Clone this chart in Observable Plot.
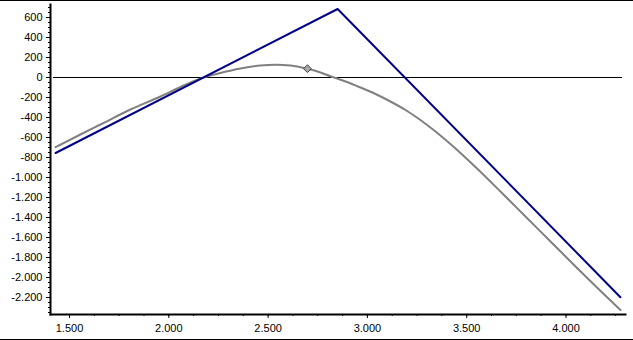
<!DOCTYPE html>
<html>
<head>
<meta charset="utf-8">
<script src="https://cdn.jsdelivr.net/npm/d3@7"></script>
<script src="https://cdn.jsdelivr.net/npm/@observablehq/plot@0.6"></script>
<style>
  html, body { margin: 0; padding: 0; background: #fff; }
  #wrap { width: 633px; height: 337px; border-top: 1px solid #000; border-bottom: 1px solid #000; padding-bottom: 1px; }
  #wrap svg { display: block; }
</style>
</head>
<body>
<div id="wrap"></div>
<script>
// Expiry payoff (blue) breakpoints
const expiryX = [1430, 2850, 4274];
const expiryY = [-755, 685, -2197];

// Current value curve (gray)
const currentX = [1430, 1555, 1656, 1807, 1958, 2059, 2160, 2260, 2361, 2462, 2537, 2613, 2698, 2764, 2814, 2890, 2965, 3041, 3116, 3192, 3267, 3343, 3418, 3544, 3670, 3796, 3922, 4048, 4174, 4274];
const currentY = [-697, -570, -470, -320, -190, -95, -10, 45, 90, 120, 127, 120, 87, 50, 13, -40, -100, -165, -240, -325, -425, -540, -665, -895, -1140, -1390, -1640, -1890, -2135, -2325];

// Current position marker
const markerX = [2698];
const markerY = [88];

// Tick values
const yTicks = [600, 400, 200, 0, -200, -400, -600, -800, -1000, -1200, -1400, -1600, -1800, -2000, -2200];
const xTicks = [1500, 2000, 2500, 3000, 3500, 4000];

const expiry = expiryX.map((x, i) => ({x, y: expiryY[i]}));
const current = currentX.map((x, i) => ({x, y: currentY[i]}));
const marker = markerX.map((x, i) => ({x, y: markerY[i]}));

const fmt = d3.formatLocale({decimal: ",", thousands: ".", grouping: [3], currency: ["", ""], minus: "-"}).format(",d");

const yMinor = d3.range(-2350, 701, 50);
const xMinor = d3.range(1500, 4300, 125);

const chart = Plot.plot({
  width: 633,
  height: 337,
  marginLeft: 50,
  marginRight: 8,
  marginTop: 3,
  marginBottom: 24,
  style: {fontFamily: "'Liberation Sans', Arial, sans-serif", fontSize: "11px", color: "#000", background: "#fff"},
  x: {domain: [1404.3, 4299.6], label: null},
  y: {domain: [-2370, 730], label: null},
  marks: [
    Plot.axisY(yMinor, {tickSize: 2, text: null, stroke: "#000", label: null}),
    Plot.axisY(yTicks, {tickSize: 4, tickPadding: 4, tickFormat: fmt, stroke: "#000", fill: "#000", label: null}),
    Plot.axisX(xMinor, {tickSize: 2, text: null, stroke: "#000", label: null}),
    Plot.axisX(xTicks, {tickSize: 4, tickPadding: 6, tickFormat: fmt, stroke: "#000", fill: "#000", label: null}),
    Plot.ruleY([0], {stroke: "#000", strokeWidth: 1, insetLeft: 3, insetRight: 3}),
    Plot.line(current, {x: "x", y: "y", stroke: "#808080", strokeWidth: 2, curve: "monotone-x"}),
    Plot.line(expiry, {x: "x", y: "y", stroke: "#000088", strokeWidth: 2}),
    Plot.dot(marker, {x: "x", y: "y", symbol: "diamond2", r: 3.5, fill: "#a8a8a8", stroke: "#404040", strokeWidth: 1}),
    Plot.frame({anchor: "left", stroke: "#000", strokeWidth: 2}),
    Plot.frame({anchor: "bottom", stroke: "#000", strokeWidth: 2})
  ]
});
document.getElementById("wrap").appendChild(chart);
</script>
</body>
</html>
